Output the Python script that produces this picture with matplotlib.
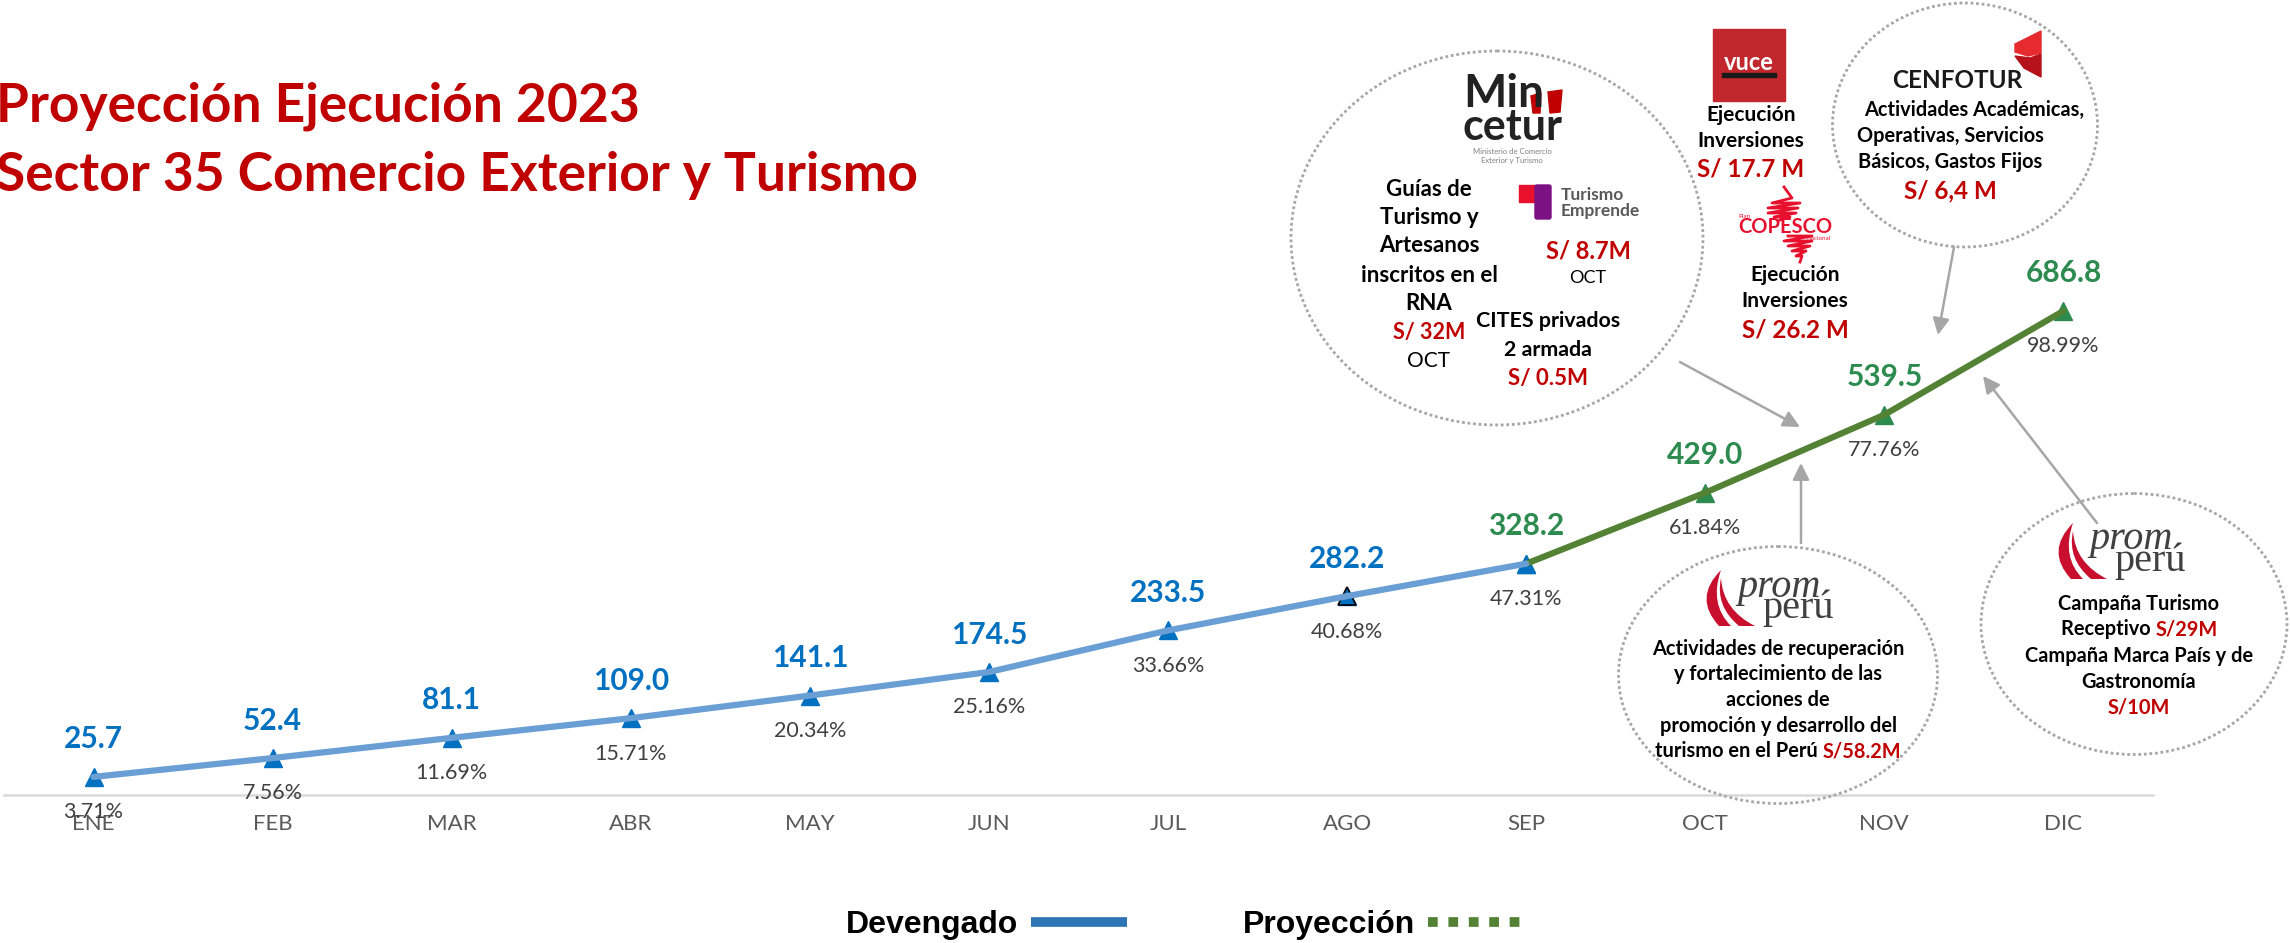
import matplotlib
matplotlib.use("Agg")
import matplotlib.pyplot as plt
from matplotlib.lines import Line2D
from matplotlib.path import Path
from matplotlib.patches import Ellipse, FancyArrowPatch, PathPatch, Polygon, Rectangle, FancyBboxPatch

plt.rcParams['font.family'] = ['Lato', 'DejaVu Sans']

meses = ["ENE", "FEB", "MAR", "ABR", "MAY", "JUN", "JUL", "AGO", "SEP", "OCT", "NOV", "DIC"]
devengado = [25.7, 52.4, 81.1, 109.0, 141.1, 174.5, 233.5, 282.2, 328.2]
proyeccion = [328.2, 429.0, 539.5, 686.8]
porcentajes = ["3.71%", "7.56%", "11.69%", "15.71%", "20.34%", "25.16%", "33.66%",
               "40.68%", "47.31%", "61.84%", "77.76%", "98.99%"]

W, H = 2290, 943
ROJO = "#C00000"
AZUL = "#0070C0"
VERDE = "#2E8B4F"
GRIS = "#A6A6A6"

fig = plt.figure(figsize=(W / 100, H / 100), dpi=100)
ax = fig.add_axes([4 / W, 1 - 795 / H, 2149 / W, 795 / H])
ax.set_xlim(-0.5, 11.5)
ax.set_ylim(0, 1128)
ax.patch.set_alpha(0)

x_dev = list(range(len(devengado)))
x_pro = list(range(len(devengado) - 1, len(meses)))

ax.plot(x_pro, proyeccion, color="#548235", lw=4.5, zorder=3, solid_capstyle="round")
ax.plot(x_pro, proyeccion, ls="", marker="^", ms=13.5, color=VERDE, zorder=2.5)
ax.plot(x_dev, devengado, ls="", marker="^", ms=13.5, color=AZUL, zorder=2.5)
ax.plot(x_dev[7], devengado[7], ls="", marker="^", ms=13.5, color=AZUL, mec="black", mew=1.2, zorder=2.6)
ax.plot(x_dev, devengado, color="#6A9FD5", lw=4.5, zorder=4, solid_capstyle="round")

valores = devengado + proyeccion[1:]
for i, v in enumerate(valores):
    col = AZUL if i < 8 else VERDE
    ax.annotate(f"{v:.1f}", (i, v), xytext=(0, 27), textcoords="offset points", ha="center",
                va="center", color=col, fontsize=21.5, fontweight="bold", zorder=6, annotation_clip=False)
    ax.annotate(porcentajes[i], (i, v), xytext=(0, -25.5), textcoords="offset points", ha="center",
                va="center", color="#404040", fontsize=15.5, zorder=6, annotation_clip=False)

ax.set_xticks(range(12), meses)
ax.tick_params(axis="x", length=0, pad=14, labelsize=16, labelcolor="#595959")
ax.set_yticks([])
for s in ["top", "left", "right"]:
    ax.spines[s].set_visible(False)
ax.spines["bottom"].set_color("#D9D9D9")
ax.spines["bottom"].set_linewidth(1.8)

handles = [Line2D([], [], color="#2E75B6", lw=7, solid_capstyle="butt"),
           Line2D([], [], color="#548235", lw=7, ls=(0, (1, 1.1)))]
fig.legend(handles, ["Devengado", "Proyección"], ncol=2, markerfirst=False, frameon=False,
           loc="center", bbox_to_anchor=(1185 / W, 1 - 925 / H),
           prop={"family": "Liberation Sans", "weight": "bold", "size": 23},
           handlelength=3.0, columnspacing=3.65, handletextpad=0.4)

# capa en pixeles para anotaciones y logos
ov = fig.add_axes([0, 0, 1, 1], zorder=5)
ov.set_xlim(0, W)
ov.set_ylim(H, 0)
ov.axis("off")


def txt(x, y, s, color="black", size=14.4, bold=True, **kw):
    kw.setdefault("ha", "center")
    return ov.text(x, y, s, color=color, fontsize=size, fontweight="bold" if bold else "normal",
                   va="center", **kw)


def doble(x, y, negro, rojo, size=14.4):
    # linea centrada con dos colores
    r = fig.canvas.get_renderer()
    a = ov.text(0, y, negro, fontsize=size, fontweight="bold", va="center", color="black")
    b = ov.text(0, y, rojo, fontsize=size, fontweight="bold", va="center", color=ROJO)
    wa = a.get_window_extent(r).width
    wb = b.get_window_extent(r).width
    a.set_x(x - (wa + wb) / 2)
    b.set_x(x - (wa + wb) / 2 + wa)


txt(-4, 106, "Proyección Ejecución 2023", ROJO, 38.4, ha="left")
txt(-4, 176, "Sector 35 Comercio Exterior y Turismo", ROJO, 38.4, ha="left")

for cx, cy, w, h in [(1497, 238, 412, 374), (1965, 125, 265, 244), (1778, 675, 319, 257), (2134, 624, 306, 261)]:
    ov.add_patch(Ellipse((cx, cy), w, h, fill=False, ec=GRIS, lw=2, ls=(0, (1, 1))))

for p, q in [((1680, 362), (1800, 427)), ((1954, 247), (1938, 335)), ((1801, 543), (1801, 463)), ((2097, 523), (1983, 376))]:
    ov.add_patch(FancyArrowPatch(p, q, arrowstyle="-|>", mutation_scale=25, color=GRIS, lw=1.8,
                                 shrinkA=0, shrinkB=0))

# Mincetur
txt(1463, 94, "Min", "#222222", 33, ha="left")
txt(1463, 127, "cetur", "#222222", 31, ha="left")
txt(1512, 152, "Ministerio de Comercio", "#808080", 5.5, bold=False)
txt(1512, 160, "Exterior y Turismo", "#808080", 5.5, bold=False)
ov.add_patch(Polygon([(1531, 96), (1541, 93), (1540, 113), (1533, 113)], color=ROJO))
ov.add_patch(Polygon([(1548, 92), (1562, 90), (1560, 112), (1550, 113)], color=ROJO))
for y, s in zip([189, 217, 246, 275, 304], ["Guías de", "Turismo y", "Artesanos", "inscritos en el", "RNA"]):
    txt(1429, y, s, size=16)
txt(1429, 332, "S/ 32M", ROJO, 15.5)
txt(1429, 361, "OCT", size=15, bold=False)

# Turismo Emprende
ov.add_patch(Rectangle((1519, 185), 16, 17, color="#E8112D"))
ov.add_patch(FancyBboxPatch((1537, 187), 12, 30, boxstyle="round,pad=2", color="#7B1183"))
txt(1561, 195, "Turismo", "#595959", 12.5, ha="left")
txt(1561, 211, "Emprende", "#595959", 12.5, ha="left")
txt(1588, 251, "S/ 8.7M", ROJO, 17)
txt(1588, 278, "OCT", size=13, bold=False)
txt(1548, 321, "CITES privados", size=15.4)
txt(1548, 350, "2 armada", size=15.4)
txt(1548, 379, "S/ 0.5M", ROJO, 16)

# VUCE
ov.add_patch(Rectangle((1713, 29), 72, 72, color="#C1272D"))
txt(1749, 63, "vuce", "white", 17)
ov.add_patch(Rectangle((1722, 73), 54, 4, color="#1A1A1A"))
txt(1751, 115, "Ejecución", size=15)
txt(1751, 141, "Inversiones", size=15)
txt(1751, 169, "S/ 17.7 M", ROJO, 17.5)

# Copesco
txt(1785, 227, "COPESCO", "#E8112D", 14.5)
txt(1744, 216, "Plan", "#E8112D", 4.5, bold=False)
txt(1818, 238, "Nacional", "#E8112D", 4.5, bold=False)
ov.plot([1784, 1792, 1772, 1800, 1768, 1798, 1768, 1796, 1774, 1790, 1780],
        [187, 198, 203, 203, 208, 208, 213, 213, 217, 217, 220], color="#E8112D", lw=2)
ov.plot([1788, 1812, 1784, 1812, 1788, 1810, 1792, 1806, 1796, 1802, 1800],
        [236, 236, 241, 241, 246, 246, 251, 251, 256, 256, 262], color="#E8112D", lw=2)
txt(1795, 275, "Ejecución", size=15)
txt(1795, 301, "Inversiones", size=15)
txt(1795, 330, "S/ 26.2 M", ROJO, 17.5)

# Cenfotur
txt(1957, 80, "CENFOTUR", "#1A1A1A", 17.5)
ov.add_patch(Polygon([(2041, 31), (2041, 53), (2028, 56), (2015, 52), (2015, 44)], color="#E62A2E"))
ov.add_patch(Polygon([(2015, 56), (2030, 58), (2041, 54), (2041, 77), (2024, 68)], color="#B5121B"))
txt(1974, 110, "Actividades Académicas,")
txt(1950, 136, "Operativas, Servicios")
txt(1950, 162, "Básicos, Gastos Fijos")
txt(1950, 191, "S/ 6,4 M", ROJO, 17.5)


def promperu(x, y):
    # x, y: esquina superior izquierda del logo
    for pts in [[(16, 0), (-12, 28), (14, 56), (26, 56), (4, 34), (16, 0)],
                [(16, 8), (10, 36), (34, 56), (50, 56), (18, 40), (16, 8)]]:
        verts = [(x + a, y + b) for a, b in pts]
        codes = [Path.MOVETO, Path.CURVE3, Path.CURVE3, Path.LINETO, Path.CURVE3, Path.CURVE3]
        ov.add_patch(PathPatch(Path(verts, codes), fc="#C8102E", ec="none"))
    ov.text(x + 74, y + 17, "prom", family="Liberation Serif", style="italic", fontsize=29, color="#404040",
            ha="center", va="center")
    ov.text(x + 93, y + 38, "perú", family="Liberation Serif", fontsize=29, color="#404040",
            ha="center", va="center")


promperu(1705, 570)
promperu(2057, 523)
txt(1778, 649, "Actividades de recuperación")
txt(1778, 674, "y fortalecimiento de las")
txt(1778, 700, "acciones de")
txt(1778, 726, "promoción y desarrollo del")
doble(1778, 751, "turismo en el Perú ", "S/58.2M")

txt(2139, 604, "Campaña Turismo")
doble(2139, 629, "Receptivo ", "S/29M")
txt(2139, 656, "Campaña Marca País y de")
txt(2139, 682, "Gastronomía")
txt(2139, 707, "S/10M", ROJO)

ov.set_xlim(0, W)
ov.set_ylim(H, 0)
fig.savefig("out.png", dpi=100)
